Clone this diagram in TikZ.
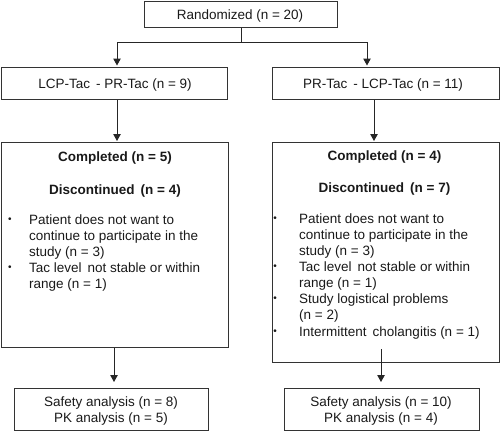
\documentclass[tikz,border=0pt]{standalone}
\usepackage{fontspec}
\setmainfont{Liberation Sans}
\usetikzlibrary{arrows.meta,calc}
\begin{document}
\begin{tikzpicture}[x=1pt,y=-1pt,
  box/.style={draw=black!80, line width=1pt, inner sep=0pt, anchor=north west},
  txt/.style={font=\fontsize{13.5}{16}\selectfont, inner sep=0pt, text=black!90, anchor=base},
  btxt/.style={txt, font=\fontsize{13.5}{16}\selectfont\bfseries},
  ltxt/.style={txt, anchor=base west},
  bul/.style={txt, anchor=base, font=\fontsize{10}{12}\selectfont},
  ln/.style={draw=black!85, line width=1pt},
  arr/.style={ln, -{Triangle[length=7pt,width=7.5pt]}}]
\useasboundingbox (0,0) rectangle (500,432);
% boxes
\node[box, minimum width=193pt, minimum height=26pt] (rand) at (144,1) {};
\node[box, minimum width=226pt, minimum height=32pt] (lcp) at (1,67) {};
\node[box, minimum width=227pt, minimum height=32pt] (pr) at (272,67) {};
\node[box, minimum width=227pt, minimum height=205pt] (lbig) at (1,142) {};
\node[box, minimum width=227pt, minimum height=220pt] (rbig) at (272,142) {};
\node[box, minimum width=194pt, minimum height=42pt] (lbot) at (14,388) {};
\node[box, minimum width=195pt, minimum height=42pt] (rbot) at (284,388) {};
% texts
\node[txt] (t0) at (240,19) {Randomized (n = 20)};
\node[txt] (t1) at (115,88) {LCP-Tac\, - PR-Tac (n = 9)};
\node[txt] (t2) at (383,88) {PR-Tac\, - LCP-Tac (n = 11)};
\node[btxt] (l1) at (115,161) {Completed (n = 5)};
\node[btxt] (l2) at (115,194) {Discontinued\, (n = 4)};
\node[bul] (lb1) at (10,222) {•};
\node[ltxt] (l3) at (29,224) {Patient does not want to};
\node[ltxt] (l4) at (29,240) {continue to participate in the};
\node[ltxt] (l5) at (29,256) {study (n = 3)};
\node[bul] (lb2) at (10,270) {•};
\node[ltxt] (l6) at (29,272) {Tac level\, not stable or within};
\node[ltxt] (l7) at (29,288) {range (n = 1)};
\node[btxt] (r1) at (384.5,160) {Completed (n = 4)};
\node[btxt] (r2) at (384.5,192) {Discontinued\, (n = 7)};
\node[bul] (rb1) at (275,221) {•};
\node[ltxt] (r3) at (299,223) {Patient does not want to};
\node[ltxt] (r4) at (299,239) {continue to participate in the};
\node[ltxt] (r5) at (299,255) {study (n = 3)};
\node[bul] (rb2) at (275,269) {•};
\node[ltxt] (r6) at (299,271) {Tac level\, not stable or within};
\node[ltxt] (r7) at (299,287) {range (n = 1)};
\node[bul] (rb3) at (275,301) {•};
\node[ltxt] (r8) at (299,303) {Study logistical problems};
\node[ltxt] (r9) at (299,319) {(n = 2)};
\node[bul] (rb4) at (275,334) {•};
\node[ltxt] (r10) at (299,336) {Intermittent\, cholangitis (n = 1)};
\node[txt] (b1) at (111,406) {Safety analysis (n = 8)};
\node[txt] (b2) at (111,422) {PK analysis (n = 5)};
\node[txt] (b3) at (381,406) {Safety analysis (n = 10)};
\node[txt] (b4) at (381,422) {PK analysis (n = 4)};
% connectors
\coordinate (split) at (241,42);
\coordinate (sl) at (117,42);
\coordinate (sr) at (367,42);
\coordinate (ax1) at (117,0);
\coordinate (ax2) at (374,0);
\coordinate (ax3) at (114,0);
\coordinate (ax4) at (381,0);
\draw[ln] (rand.south -| split) -- (split);
\draw[ln] (sl) -- (sr);
\draw[arr] (sl) -- ($(lcp.north -| sl)+(0,-1.5)$);
\draw[arr] (sr) -- ($(pr.north -| sr)+(0,-1.5)$);
\draw[arr] (lcp.south -| ax1) -- ($(lbig.north -| ax1)+(0,-1)$);
\draw[arr] (pr.south -| ax2) -- ($(rbig.north -| ax2)+(0,-1)$);
\draw[arr] (lbig.south -| ax3) -- ($(lbot.north -| ax3)+(0,-6)$);
\draw[arr] ($(rbig.south -| ax4)+(0,-14)$) -- ($(rbot.north -| ax4)+(0,-6)$);
\end{tikzpicture}
\end{document}
